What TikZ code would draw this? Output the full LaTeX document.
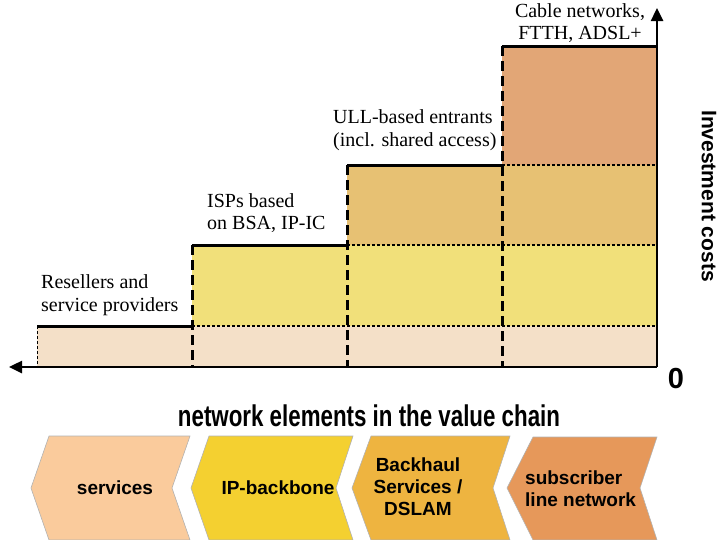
\documentclass[tikz,border=0pt]{standalone}
\usepackage{fontspec}
\setmainfont{Liberation Serif}
\setsansfont{Liberation Sans}
\usetikzlibrary{arrows.meta}
\definecolor{bandA}{HTML}{F4E0C8}
\definecolor{bandB}{HTML}{F1E07A}
\definecolor{bandC}{HTML}{E7C173}
\definecolor{bandD}{HTML}{E2A676}
\definecolor{chevA}{HTML}{FACB9C}
\definecolor{chevB}{HTML}{F4D030}
\definecolor{chevC}{HTML}{EEB440}
\definecolor{chevD}{HTML}{E6985A}
\begin{document}
\begin{tikzpicture}[x=1pt,y=-1pt,
  lbl/.style={font=\fontsize{20}{22.5}\selectfont, inner sep=0pt},
  sanslbl/.style={font=\sffamily\bfseries\fontsize{19}{22}\selectfont, inner sep=0pt},
  stepline/.style={line width=3pt},
  dashv/.style={line width=3pt, dash pattern=on 10pt off 5pt},
  dotline/.style={line width=1.6pt, dash pattern=on 3pt off 2pt},
  axisline/.style={line width=2.5pt, -{Triangle[length=13pt,width=12pt]}},
  chev/.style={draw=gray!60, line width=0.6pt}]
\useasboundingbox (0,0) rectangle (719,539);
% bands
\fill[bandA] (37,326) rectangle (657,367);
\fill[bandB] (192,245) rectangle (657,326);
\fill[bandC] (347,165) rectangle (657,245);
\fill[bandD] (502,46) rectangle (657,165);
% dotted separators
\draw[dotline, line width=1pt] (37,326) -- (37,367);
\draw[dotline] (192,326) -- (657,326);
\draw[dotline] (347,245) -- (657,245);
\draw[dotline] (502,165) -- (657,165);
% step outline
\draw[stepline] (37,326) -- (192,326);
\draw[stepline] (192,245) -- (347,245);
\draw[stepline] (347,165) -- (502,165);
\draw[stepline] (502,46) -- (657,46);
\draw[dashv] (192,245) -- (192,367);
\draw[dashv] (347,165) -- (347,367);
\draw[dashv] (502,46) -- (502,367);
% axes
\coordinate (o) at (657,367);
\coordinate (xend) at (9,367);
\coordinate (yend) at (657,8);
\draw[axisline] (o) -- (xend);
\draw[axisline] (o) -- (yend);
% labels
\node[lbl, align=left, anchor=west] (resellers) at (41,295) {Resellers and\\service providers};
\node[lbl, align=left, anchor=west] (isps) at (207,213) {ISPs based\\on BSA, IP-IC};
\node[lbl, align=left, anchor=west] (ull) at (333,130) {ULL-based entrants\\(incl. shared access)};
\node[lbl, align=center] (cable) at (580,23) {Cable networks,\\FTTH, ADSL+};
\node[font=\sffamily\bfseries\fontsize{21}{24}\selectfont, rotate=-90, inner sep=0pt] (inv) at (709,196) {Investment costs};
\node[font=\sffamily\bfseries\fontsize{29}{32}\selectfont, inner sep=0pt] (zero) at (676,379) {0};
\node[font=\sffamily\bfseries\fontsize{30}{33}\selectfont, inner sep=0pt] (chain) at (369,416) {\resizebox{382pt}{\height}{network elements in the value chain}};
% chevrons
\draw[chev, fill=chevA] (31,488) -- (49,436) -- (190,436) -- (172,488) -- (190,540) -- (49,540) -- cycle;
\draw[chev, fill=chevB] (191,488) -- (209,436) -- (353,436) -- (336,488) -- (353,540) -- (209,540) -- cycle;
\draw[chev, fill=chevC] (352,488) -- (371,436) -- (510,436) -- (493,488) -- (510,540) -- (371,540) -- cycle;
\draw[chev, fill=chevD] (507,488) -- (533,437) -- (657,437) -- (640,488) -- (657,540) -- (533,540) -- cycle;
\node[sanslbl] (services) at (115,488) {services};
\node[sanslbl] (ipb) at (278,488) {IP-backbone};
\node[sanslbl, align=center] (backhaul) at (418,487) {Backhaul\\Services /\\DSLAM};
\node[sanslbl, align=left, anchor=west] (subscr) at (525,489) {subscriber\\line network};
\end{tikzpicture}
\end{document}
